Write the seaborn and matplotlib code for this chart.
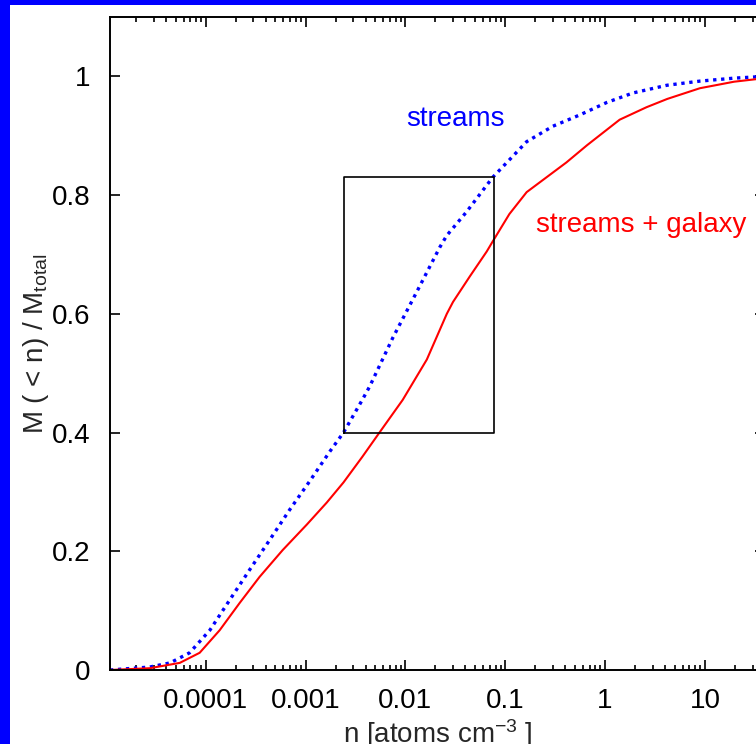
import matplotlib
matplotlib.use("Agg")
import matplotlib.pyplot as plt
import matplotlib.ticker as mticker
from matplotlib.patches import Rectangle
import seaborn as sns

sns.set_theme(style="ticks")
plt.rcParams["font.family"] = ["Liberation Sans", "DejaVu Sans"]
plt.rcParams["mathtext.fontset"] = "custom"
plt.rcParams["mathtext.rm"] = "Liberation Sans"
plt.rcParams["mathtext.it"] = "Liberation Sans:italic"

# cumulative mass fraction
streams_n = [1.1e-5, 2.75e-5, 4.4e-5, 6.9e-5, 1.1e-4, 1.74e-4, 2.76e-4, 4.37e-4,
             6.94e-4, 1.1e-3, 1.75e-3, 2.4e-3, 3.7e-3, 4.4e-3, 7.5e-3, 0.013,
             0.0221, 0.026, 0.0411, 0.075, 0.111, 0.164, 0.30, 0.558, 1.04,
             1.9, 4.16, 8.9, 19.6, 40]
streams_m = [0.0, 0.005, 0.012, 0.029, 0.067, 0.118, 0.169, 0.219,
             0.27, 0.318, 0.368, 0.40, 0.455, 0.478, 0.56, 0.637,
             0.712, 0.732, 0.772, 0.83, 0.86, 0.89, 0.916, 0.935, 0.956,
             0.972, 0.985, 0.992, 0.997, 1.0]

galaxy_n = [1.1e-5, 2.75e-5, 5.5e-5, 8.7e-5, 1.38e-4, 2.19e-4, 3.47e-4, 5.9e-4,
            1.03e-3, 1.63e-3, 2.4e-3, 3.7e-3, 5.5e-3, 9.4e-3, 0.0164, 0.026,
            0.030, 0.0442, 0.0653, 0.075, 0.11, 0.164, 0.25, 0.41, 0.66, 1.4,
            2.6, 4.2, 8.9, 19.6, 40]
galaxy_m = [0.0, 0.003, 0.012, 0.029, 0.067, 0.113, 0.157, 0.202,
            0.245, 0.282, 0.316, 0.359, 0.40, 0.455, 0.523, 0.600,
            0.620, 0.663, 0.705, 0.722, 0.768, 0.805, 0.828, 0.855, 0.884, 0.927,
            0.948, 0.962, 0.980, 0.991, 0.997]

box_n = [0.0024, 0.077, 0.077, 0.0024, 0.0024]
box_m = [0.4, 0.4, 0.83, 0.83, 0.4]

x_ticks = [1e-4, 1e-3, 1e-2, 1e-1, 1, 10]
x_labels = ["0.0001", "0.001", "0.01", "0.1", "1", "10"]
y_ticks = [0, 0.2, 0.4, 0.6, 0.8, 1.0]
y_labels = ["0", "0.2", "0.4", "0.6", "0.8", "1"]

fig = plt.figure(figsize=(7.56, 7.44), dpi=100)
fig.patch.set_facecolor("#0000ff")
fig.patches.append(Rectangle((10 / 756, 0), 1, 1 - 5 / 744, transform=fig.transFigure,
                             facecolor="white", edgecolor="none", zorder=-10))

# axes run a bit past the right edge, as in the cropped original
ax = fig.add_axes([110 / 756, 74 / 744, 655 / 756, 653 / 744])
ax.set_facecolor("white")

sns.lineplot(x=streams_n, y=streams_m, ax=ax, color="#0000ff", lw=2.4,
             linestyle=(0, (1, 1.4)), sort=False)
sns.lineplot(x=galaxy_n, y=galaxy_m, ax=ax, color="#ff0000", lw=1.5, sort=False)
ax.plot(box_n, box_m, color="black", lw=1.2)

ax.text(0.0316, 0.916, "streams", color="#0000ff", fontsize=20, ha="center", va="baseline")
ax.text(2.31, 0.737, "streams + galaxy", color="#ff0000", fontsize=20, ha="center", va="baseline")

ax.set_xscale("log")
ax.set_xlim(1.1e-5, 40)
ax.set_ylim(0, 1.1)
ax.set_xticks(x_ticks)
ax.set_xticklabels(x_labels)
ax.xaxis.set_minor_locator(mticker.LogLocator(base=10, subs=range(2, 10), numticks=20))
ax.xaxis.set_minor_formatter(mticker.NullFormatter())
ax.set_yticks(y_ticks)
ax.set_yticklabels(y_labels)

for s in ax.spines.values():
    s.set_linewidth(1.4)
    s.set_color("black")
ax.tick_params(which="both", direction="in", top=True, right=True, labelsize=20,
               colors="black", width=1.2)
ax.tick_params(which="major", length=7.2)
ax.tick_params(which="minor", length=3.6)
ax.tick_params(axis="y", pad=14)
ax.tick_params(axis="x", pad=13)

ax.set_xlabel(r"n [atoms cm$^{-3}$ ]", fontsize=20)
ax.set_ylabel(r"M ( < n) / M$_{\rm total}$", fontsize=20)
ax.xaxis.set_label_coords(0.5, -0.072)
ax.yaxis.set_label_coords(-0.09, 0.5)

fig.savefig("out.png", dpi=100, facecolor=fig.get_facecolor())
